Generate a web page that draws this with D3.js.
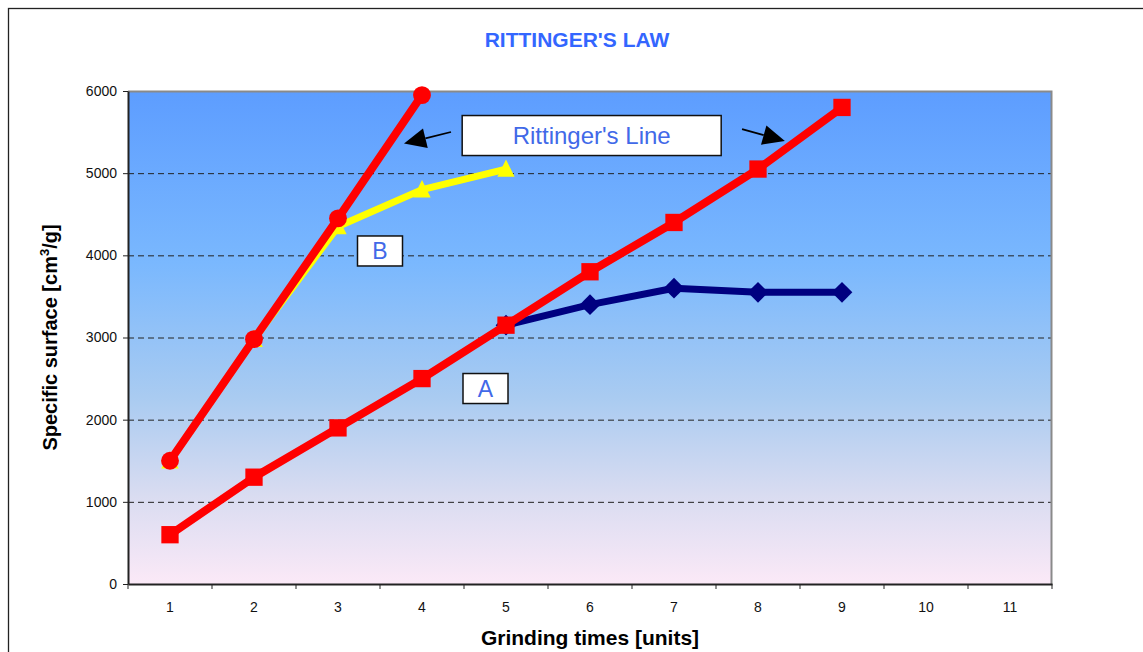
<!DOCTYPE html>
<html>
<head>
<meta charset="utf-8">
<script src="https://cdn.jsdelivr.net/npm/d3@7"></script>
<style>
  html, body { margin: 0; padding: 0; background: #fff; }
  svg { display: block; font-family: "Liberation Sans", Arial, sans-serif; }
</style>
</head>
<body>
<svg id="chart" width="1143" height="652"></svg>
<script>
// Grinding time (units) on the category axis
const categories = [1, 2, 3, 4, 5, 6, 7, 8, 9, 10, 11];
const yTicks = [0, 1000, 2000, 3000, 4000, 5000, 6000];

// Material A: ideal Rittinger line and measured curve
const lineA_x = [1, 2, 3, 4, 5, 6, 7, 8, 9];
const lineA_y = [600, 1300, 1900, 2500, 3150, 3800, 4400, 5050, 5800];
const measuredA_x = [5, 6, 7, 8, 9];
const measuredA_y = [3150, 3400, 3600, 3550, 3550];

// Material B: ideal Rittinger line and measured curve
const lineB_x = [1, 2, 3, 4];
const lineB_y = [1500, 2980, 4450, 5950];
const measuredB_x = [1, 2, 3, 4, 5];
const measuredB_y = [1500, 2980, 4350, 4800, 5050];

const svg = d3.select("#chart");
const plot = { left: 128, right: 1052, top: 91, bottom: 584 };

const x = d3.scaleBand().domain(categories).range([plot.left, plot.right]).padding(0);
const xc = v => x(v) + x.bandwidth() / 2;
const xLin = d3.scaleLinear().domain([0.5, 11.5]).range([plot.left, plot.right]);
const y = d3.scaleLinear().domain([0, 6000]).range([plot.bottom, plot.top]);

// Outer frame
svg.append("rect")
  .attr("x", 8.5).attr("y", 8.5).attr("width", 1150).attr("height", 660)
  .attr("fill", "#fff").attr("stroke", "#222").attr("stroke-width", 1.3);

// Plot background gradient
const defs = svg.append("defs");
const grad = defs.append("linearGradient").attr("id", "bg")
  .attr("x1", 0).attr("y1", 0).attr("x2", 0).attr("y2", 1);
[["0%", "#5d9dff"], ["35%", "#7ab8fe"], ["62%", "#a9cbf1"], ["82%", "#d9dcf1"], ["100%", "#fbe9f7"]]
  .forEach(([o, c]) => grad.append("stop").attr("offset", o).attr("stop-color", c));

svg.append("rect")
  .attr("x", plot.left).attr("y", plot.top)
  .attr("width", plot.right - plot.left).attr("height", plot.bottom - plot.top)
  .attr("fill", "url(#bg)");

// Dashed horizontal gridlines
svg.append("g").selectAll("line")
  .data(yTicks.filter(t => t > 0 && t < 6000))
  .join("line")
  .attr("x1", plot.left).attr("x2", plot.right)
  .attr("y1", d => y(d) + 0.5).attr("y2", d => y(d) + 0.5)
  .attr("stroke", "#222").attr("stroke-width", 1)
  .attr("stroke-dasharray", "6,4");

// Grey top/right border of the plot area
svg.append("path")
  .attr("d", `M${plot.left},${plot.top + 0.5}H${plot.right - 0.5}V${plot.bottom}`)
  .attr("fill", "none").attr("stroke", "#8a8a8a").attr("stroke-width", 2);

// Axes
const yAxis = d3.axisLeft(y).tickValues(yTicks).tickFormat(d3.format("d"))
  .tickSize(5).tickPadding(6).tickSizeOuter(0);
const gy = svg.append("g").attr("transform", `translate(${plot.left},0)`).call(yAxis);
gy.select(".domain").attr("stroke", "#222").attr("stroke-width", 2);
gy.selectAll(".tick line").attr("stroke", "#222");
gy.selectAll(".tick text").attr("font-size", 14).attr("fill", "#111")
  .attr("font-family", "Liberation Sans, Arial, sans-serif");

const xAxis = d3.axisBottom(x).tickSize(0).tickPadding(18);
const gx = svg.append("g").attr("transform", `translate(0,${plot.bottom})`).call(xAxis);
gx.select(".domain").attr("stroke", "#222").attr("stroke-width", 2);
gx.selectAll(".tick text").attr("font-size", 14).attr("fill", "#111")
  .attr("font-family", "Liberation Sans, Arial, sans-serif");
// tick marks between categories
gx.append("g").selectAll("line")
  .data(categories.concat([12]))
  .join("line")
  .attr("x1", d => xLin(d - 0.5)).attr("x2", d => xLin(d - 0.5))
  .attr("y1", 0).attr("y2", 5)
  .attr("stroke", "#222").attr("stroke-width", 1);

// Series drawing helpers
const lineGen = d3.line().x(d => xc(d[0])).y(d => y(d[1]));
const zip = (xs, ys) => xs.map((v, i) => [v, ys[i]]);

function series(pts, color, width, marker, size) {
  const g = svg.append("g");
  g.append("path").datum(pts).attr("d", lineGen)
    .attr("fill", "none").attr("stroke", color).attr("stroke-width", width)
    .attr("stroke-linejoin", "round");
  g.selectAll("path.m").data(pts).join("path").attr("class", "m")
    .attr("transform", d => `translate(${xc(d[0])},${y(d[1])})`)
    .attr("d", d3.symbol().type(marker).size(size))
    .attr("fill", color);
}

const diamond = { draw(ctx, size) { const r = Math.sqrt(size) / 1.4; ctx.moveTo(0, -r); ctx.lineTo(r, 0); ctx.lineTo(0, r); ctx.lineTo(-r, 0); ctx.closePath(); } };
const triangle = { draw(ctx, size) { const r = Math.sqrt(size) / 2; ctx.moveTo(0, -r * 1.1); ctx.lineTo(r, r * 0.9); ctx.lineTo(-r, r * 0.9); ctx.closePath(); } };

series(zip(measuredA_x, measuredA_y), "#000080", 7, diamond, 210);
series(zip(measuredB_x, measuredB_y), "#ffff00", 7, triangle, 300);
series(zip(lineA_x, lineA_y), "#ff0000", 8, d3.symbolSquare, 300);
series(zip(lineB_x, lineB_y), "#ff0000", 8, d3.symbolCircle, 250);

// Annotation boxes
function labelBox(cx, cy, w, h, text, fs) {
  const px = xLin(cx), py = y(cy);
  svg.append("rect")
    .attr("x", px - w / 2).attr("y", py - h / 2).attr("width", w).attr("height", h)
    .attr("fill", "#fff").attr("stroke", "#111").attr("stroke-width", 1.5);
  svg.append("text")
    .attr("x", px).attr("y", py).attr("dy", "0.36em")
    .attr("text-anchor", "middle").attr("font-size", fs).attr("fill", "#4169e8")
    .text(text);
}
labelBox(6.02, 5458, 259, 40, "Rittinger's Line", 24);
labelBox(3.5, 4053, 45, 30, "B", 23);
labelBox(4.756, 2379, 45, 30, "A", 23);

// Arrows pointing to the two ideal lines
function arrow(x0, y0, x1, y1) {
  const p0 = [xLin(x0), y(y0)], p1 = [xLin(x1), y(y1)];
  const ang = Math.atan2(p1[1] - p0[1], p1[0] - p0[0]);
  const L = 22, W = 10;
  const bx = p1[0] - L * Math.cos(ang), by = p1[1] - L * Math.sin(ang);
  const nx = -Math.sin(ang), ny = Math.cos(ang);
  svg.append("line")
    .attr("x1", p0[0]).attr("y1", p0[1]).attr("x2", bx).attr("y2", by)
    .attr("stroke", "#000").attr("stroke-width", 1.8);
  svg.append("path")
    .attr("d", `M${p1[0]},${p1[1]}L${bx + nx * W},${by + ny * W}L${bx - nx * W},${by - ny * W}Z`)
    .attr("fill", "#000");
}
arrow(4.345, 5501, 3.786, 5360);
arrow(7.81, 5537, 8.32, 5391);

// Title and axis titles
svg.append("text")
  .attr("x", 577).attr("y", 47).attr("text-anchor", "middle")
  .attr("font-size", 21).attr("font-weight", "bold").attr("fill", "#3366ff")
  .text("RITTINGER'S LAW");

svg.append("text")
  .attr("x", 590).attr("y", 645).attr("text-anchor", "middle")
  .attr("font-size", 21).attr("font-weight", "bold").attr("fill", "#000")
  .text("Grinding times [units]");

const yt = svg.append("text")
  .attr("transform", `translate(57,${(plot.top + plot.bottom) / 2}) rotate(-90)`)
  .attr("text-anchor", "middle")
  .attr("font-size", 20).attr("font-weight", "bold").attr("fill", "#000");
yt.append("tspan").text("Specific surface [cm");
yt.append("tspan").attr("font-size", 13).attr("dy", -8).text("3");
yt.append("tspan").attr("dy", 8).text("/g]");
</script>
</body>
</html>
